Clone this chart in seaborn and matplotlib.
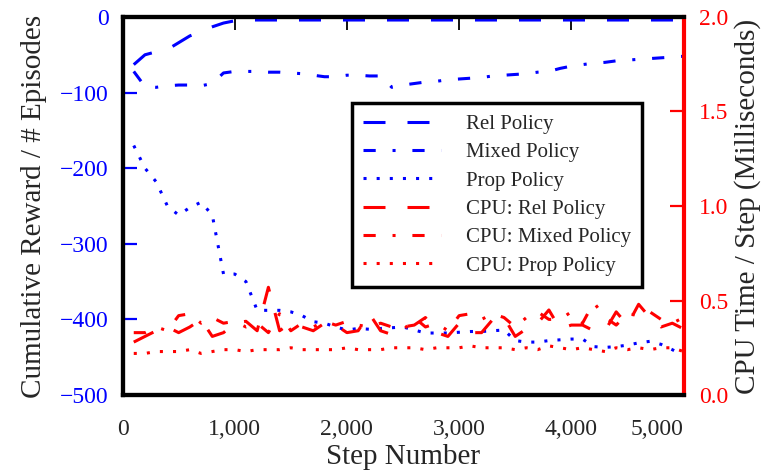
import numpy as np
import pandas as pd
import matplotlib
matplotlib.use("Agg")
import matplotlib.pyplot as plt
from matplotlib.ticker import FuncFormatter
import seaborn as sns

# ── Data ──────────────────────────────────────────────────────────────────────
steps = list(range(100, 5001, 100))

rel_reward = [-63, -50, -46, -43, -34, -25, -19, -13, -8, -5,
              -4, -4, -4, -4, -4, -4, -4, -4, -4, -4,
              -4, -4, -4, -4, -4, -4, -4, -4, -4, -4,
              -4, -4, -4, -4, -4, -4, -4, -4, -4, -4,
              -4, -4, -4, -4, -4, -4, -4, -4, -4, -4]
mixed_reward = [-72, -92, -93, -91, -90, -90, -91, -88, -74, -72,
                -72, -72, -73, -73, -74, -75, -77, -79, -79, -77,
                -77, -78, -78, -93, -90, -88, -86, -85, -83, -82,
                -81, -80, -78, -77, -76, -75, -73, -72, -68, -65,
                -63, -61, -60, -58, -57, -56, -55, -54, -53, -52]
prop_reward = [-170, -200, -218, -250, -262, -252, -245, -262, -340, -340,
               -350, -388, -388, -388, -390, -395, -403, -405, -410, -414,
               -412, -413, -412, -411, -410, -414, -418, -418, -418, -417,
               -416, -416, -415, -414, -428, -430, -430, -428, -427, -426,
               -426, -436, -437, -436, -434, -431, -429, -433, -440, -448]

cpu_rel = [0.28, 0.31, 0.34, 0.36, 0.33, 0.36, 0.40, 0.31, 0.33, 0.38,
           0.39, 0.34, 0.57, 0.34, 0.38, 0.36, 0.34, 0.38, 0.37, 0.33,
           0.34, 0.43, 0.34, 0.32, 0.36, 0.37, 0.41, 0.33, 0.31, 0.38,
           0.33, 0.33, 0.40, 0.41, 0.31, 0.35, 0.38, 0.45, 0.35, 0.37,
           0.37, 0.34, 0.34, 0.44, 0.37, 0.48, 0.41, 0.36, 0.38, 0.35]
cpu_mixed = [0.33, 0.33, 0.36, 0.34, 0.42, 0.43, 0.38, 0.41, 0.38, 0.39,
             0.36, 0.38, 0.33, 0.43, 0.34, 0.38, 0.36, 0.39, 0.37, 0.39,
             0.37, 0.36, 0.38, 0.36, 0.34, 0.41, 0.36, 0.38, 0.34, 0.42,
             0.43, 0.40, 0.43, 0.41, 0.36, 0.41, 0.44, 0.40, 0.40, 0.44,
             0.38, 0.49, 0.41, 0.37, 0.43, 0.42, 0.44, 0.40, 0.38, 0.41]
cpu_prop = [0.22, 0.22, 0.23, 0.23, 0.23, 0.24, 0.22, 0.23, 0.24, 0.24,
            0.23, 0.24, 0.24, 0.24, 0.25, 0.24, 0.24, 0.24, 0.24, 0.25,
            0.24, 0.24, 0.24, 0.25, 0.25, 0.25, 0.24, 0.25, 0.25, 0.25,
            0.26, 0.25, 0.25, 0.25, 0.24, 0.25, 0.24, 0.26, 0.25, 0.24,
            0.25, 0.24, 0.23, 0.25, 0.24, 0.25, 0.24, 0.25, 0.25, 0.23]

left_ticks = [0, -100, -200, -300, -400, -500]
right_ticks = [0.0, 0.5, 1.0, 1.5, 2.0]
x_ticks = [0, 1000, 2000, 3000, 4000, 5000]

# ── Style ─────────────────────────────────────────────────────────────────────
sns.set_style("white")
plt.rcParams["font.family"] = ["Liberation Serif", "DejaVu Serif"]

BLUE, RED = "#0000ff", "#ff0000"
LW = 2.2
DASH = (0, (7.2, 7.2))
DASHDOT = (0, (4, 5.5, 1, 5.5))
DOT = (0, (1, 3.3))

fig = plt.figure(figsize=(7.62, 4.72), dpi=100)
ax = fig.add_axes([0.1608, 0.1631, 0.7362, 0.8009])
ax2 = ax.twinx()

df = pd.DataFrame(dict(step=steps, rel=rel_reward, mixed=mixed_reward, prop=prop_reward,
                       crel=cpu_rel, cmixed=cpu_mixed, cprop=cpu_prop))

for col, ls, lab in [("rel", DASH, "Rel Policy"), ("mixed", DASHDOT, "Mixed Policy"),
                     ("prop", DOT, "Prop Policy")]:
    sns.lineplot(data=df, x="step", y=col, ax=ax, color=BLUE, linestyle=ls,
                 linewidth=LW, label=lab, legend=False)
for col, ls, lab in [("crel", DASH, "CPU: Rel Policy"), ("cmixed", DASHDOT, "CPU: Mixed Policy"),
                     ("cprop", DOT, "CPU: Prop Policy")]:
    sns.lineplot(data=df, x="step", y=col, ax=ax2, color=RED, linestyle=ls,
                 linewidth=LW, label=lab, legend=False)

ax.set_xlim(0, 5000)
ax.set_ylim(-500, 0)
ax2.set_ylim(0, 2.0)

ax.set_xticks(x_ticks)
ax.xaxis.set_major_formatter(FuncFormatter(lambda v, p: f"{int(v):,}"))
ax.set_yticks(left_ticks)
ax2.set_yticks(right_ticks)
ax2.yaxis.set_major_formatter(FuncFormatter(lambda v, p: f"{v:.1f}"))

ax.tick_params(axis="x", direction="in", length=9, width=1.3, color="black",
               top=True, labelsize=17, pad=17)
ax.tick_params(axis="y", direction="in", length=10, width=1.6, color=BLUE,
               labelcolor=BLUE, labelsize=17, pad=10)
ax2.tick_params(axis="y", direction="in", length=10, width=1.6, color=RED,
                labelcolor=RED, labelsize=17, pad=11)
ax2.tick_params(axis="x", top=False, bottom=False)
labels = ax.get_xticklabels()
labels[-1].set_horizontalalignment("right")

for a in (ax, ax2):
    for s in a.spines.values():
        s.set_linewidth(3)
        s.set_color("black")
ax2.spines["right"].set_color(RED)
ax.spines["right"].set_visible(False)

ax.set_xlabel("Step Number", fontsize=21, labelpad=3)
ax.set_ylabel("Cumulative Reward / # Episodes", fontsize=21, labelpad=9)
ax2.set_ylabel("CPU Time / Step (Milliseconds)", fontsize=21, labelpad=4)

h1, l1 = ax.get_legend_handles_labels()
h2, l2 = ax2.get_legend_handles_labels()
leg = ax2.legend(h1 + h2, l1 + l2, loc="upper left",
                 bbox_to_anchor=(352 / 762, 1 - 103 / 472), bbox_transform=fig.transFigure,
                 borderaxespad=0, fontsize=15, frameon=True, fancybox=False,
                 handlelength=3.7, handletextpad=1.2, labelspacing=0.42, borderpad=0.55)
leg.get_frame().set_edgecolor("black")
leg.get_frame().set_linewidth(2.5)
leg.get_frame().set_alpha(1)

fig.savefig("out.png", dpi=100)
